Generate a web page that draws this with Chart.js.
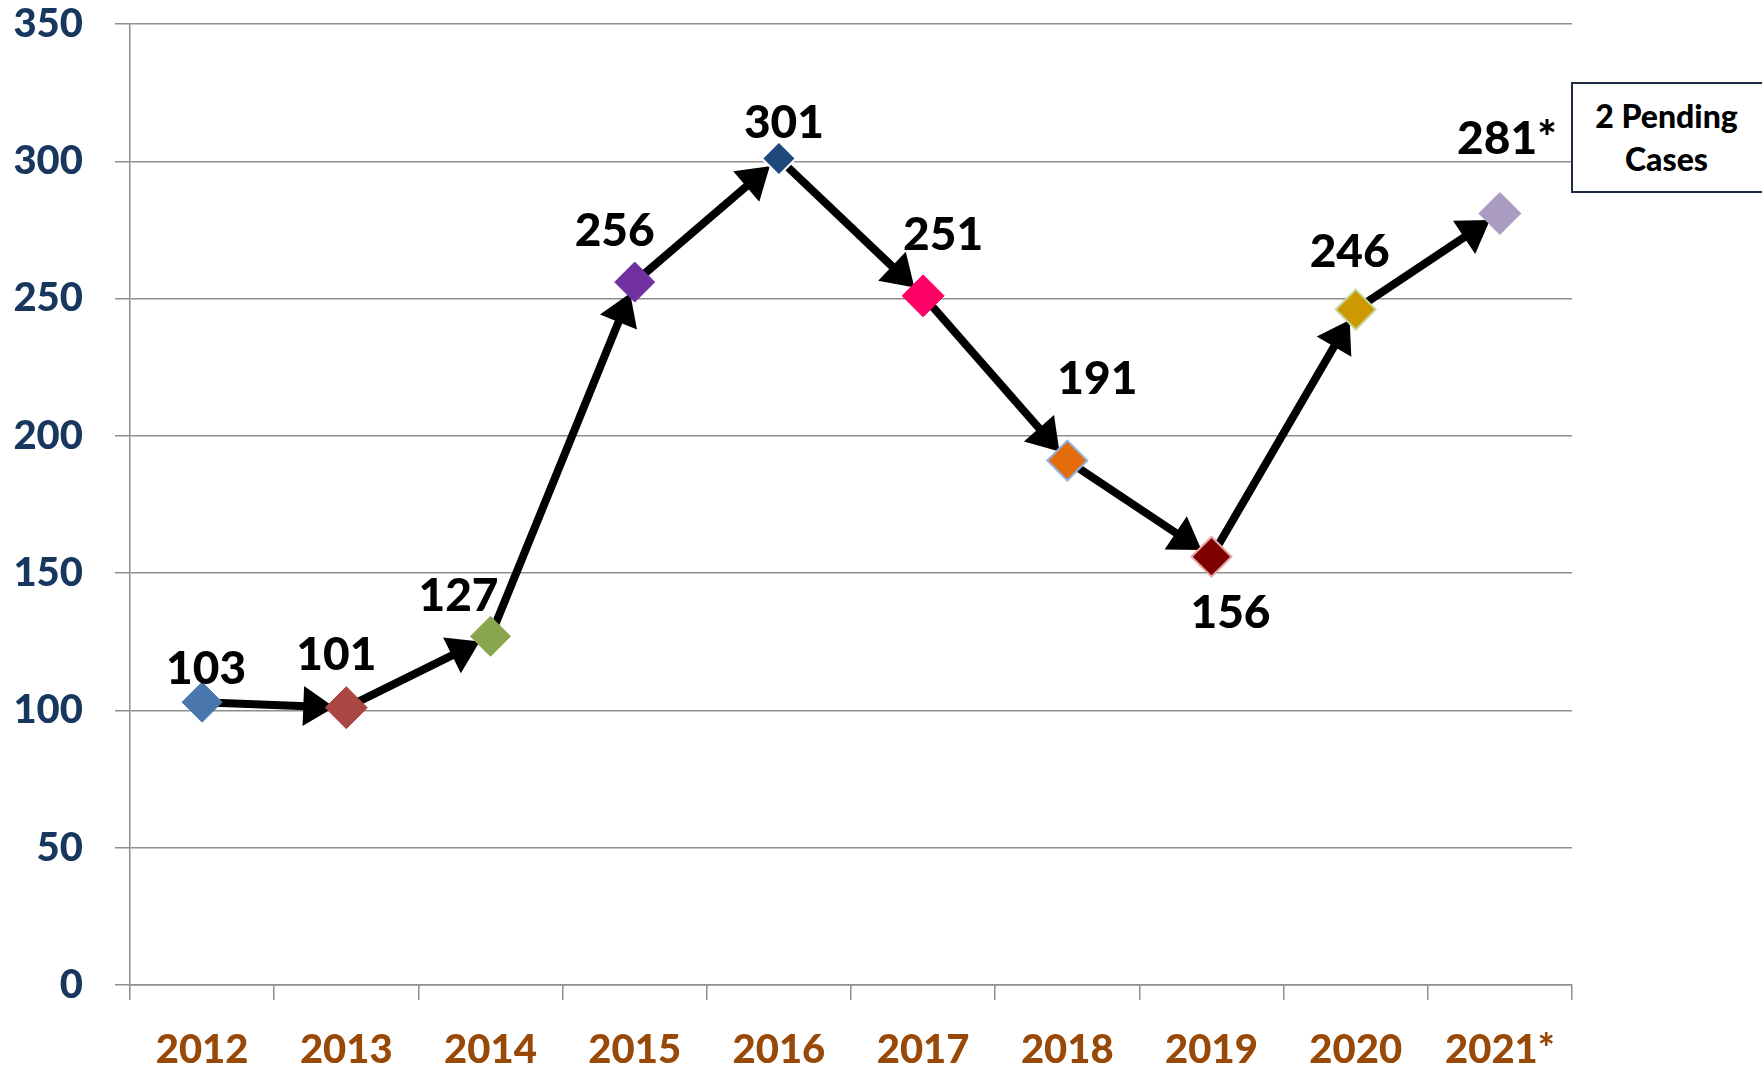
<!DOCTYPE html>
<html><head><meta charset="utf-8">
<script src="https://cdn.jsdelivr.net/npm/chart.js@4.4.1/dist/chart.umd.min.js"></script>
<style>
html,body{margin:0;padding:0;background:#fff;}
#wrap{position:relative;width:1762px;height:1068px;overflow:hidden;}
#c{position:absolute;left:0;top:0;}
#note{position:absolute;left:1571px;top:82px;width:193px;height:111px;box-sizing:border-box;border:2px solid #1F2D44;background:#fff;
 font-family:Lato,"Open Sans",sans-serif;font-weight:900;font-size:32px;line-height:43px;text-align:center;color:#000;padding-top:10px;padding-right:2px;}
</style></head>
<body><div id="wrap"><canvas id="c" width="1762" height="1068"></canvas>
<div id="note">2 Pending<br>Cases</div></div>
<script>
const categories = ['2012','2013','2014','2015','2016','2017','2018','2019','2020','2021*'];
const values = [103,101,127,256,301,251,191,156,246,281];
const yTicks = [0,50,100,150,200,250,300,350];

const markerFill = ['#4A76AE','#AA4643','#89A54E','#7030A0','#1F497D','#FF0066','#E46C0A','#800000','#CC9900','#A99BC2'];
const markerBorder = ['#4A76AE','#AA4643','#89A54E','#7030A0','#FFFFFF','#FF0066','#8EB4E3','#E6A5A5','#C3D69B','#A99BC2'];
const markerBorderW = [1,1,1,1,2,1,2,2,2,1];
const markerRadius = [20,21,20,20,17,21,20,20,20,21];
const labelOffsets = [[4,-35],[-10,-54],[-32,-42],[-20,-53],[5,-37],[20,-62],[30,-83],[19,55],[-6,-59],[7,-76]];

const pointLabels = values.map((v,i)=> String(v) + (categories[i].endsWith('*') ? '*' : ''));

function drawArrow(ctx,x0,y0,x1,y1){
  const dx=x1-x0, dy=y1-y0, L=Math.hypot(dx,dy), ux=dx/L, uy=dy/L;
  const gap=12, headLen=31, headW=40;
  const tx=x1-ux*gap, ty=y1-uy*gap;
  const bx=tx-ux*headLen, by=ty-uy*headLen;
  ctx.beginPath(); ctx.moveTo(x0,y0); ctx.lineTo(bx+ux*3,by+uy*3);
  ctx.lineWidth=8; ctx.strokeStyle='#000'; ctx.lineCap='butt'; ctx.stroke();
  ctx.beginPath(); ctx.moveTo(tx,ty);
  ctx.lineTo(bx-uy*headW/2, by+ux*headW/2);
  ctx.lineTo(bx+uy*headW/2, by-ux*headW/2);
  ctx.closePath(); ctx.fillStyle='#000'; ctx.fill();
}

const arrowPlugin = {
  id:'arrows',
  beforeDatasetsDraw(chart){
    const ctx=chart.ctx, pts=chart.getDatasetMeta(0).data;
    ctx.save();
    for(let i=0;i<pts.length-1;i++) drawArrow(ctx,pts[i].x,pts[i].y,pts[i+1].x,pts[i+1].y);
    ctx.restore();
  },
  afterDatasetsDraw(chart){
    const ctx=chart.ctx, pts=chart.getDatasetMeta(0).data;
    ctx.save();
    ctx.font='900 46px Lato, "Open Sans", sans-serif';
    ctx.fillStyle='#000'; ctx.textAlign='center'; ctx.textBaseline='alphabetic';
    pts.forEach((p,i)=>{
      ctx.fillText(pointLabels[i], p.x+labelOffsets[i][0], p.y+labelOffsets[i][1]+16.5);
    });
    ctx.restore();
  }
};

new Chart(document.getElementById('c'),{
  type:'line',
  data:{labels:categories,datasets:[{
    data:values, showLine:false,
    pointStyle:'rectRot', pointRadius:markerRadius, pointHoverRadius:markerRadius,
    pointBackgroundColor:markerFill, pointBorderColor:markerBorder, pointBorderWidth:markerBorderW
  }]},
  options:{
    responsive:false, animation:false, events:[],
    layout:{padding:{top:24,right:190,left:0,bottom:0}},
    plugins:{legend:{display:false},tooltip:{enabled:false}},
    scales:{
      x:{
        offset:true,
        grid:{offset:true,drawOnChartArea:false,drawTicks:true,tickLength:15,color:'#8E8E8E',lineWidth:1.5},
        border:{color:'#8E8E8E',width:1.5},
        ticks:{color:'#984807',font:{family:'Lato',weight:'900',size:40},padding:26,maxRotation:0,autoSkip:false},
        afterFit(s){s.height=83;s.paddingLeft=0;s.paddingRight=0;}
      },
      y:{
        min:0,max:350,
        afterBuildTicks(s){s.ticks=yTicks.map(v=>({value:v}));},
        grid:{color:'#8E8E8E',lineWidth:1.5,tickLength:15},
        border:{color:'#8E8E8E',width:1.5},
        ticks:{color:'#17375E',font:{family:'Lato',weight:'900',size:40},padding:32},
        afterFit(s){s.width=130;s.paddingTop=0;s.paddingBottom=0;}
      }
    }
  },
  plugins:[arrowPlugin]
});
</script></body></html>
